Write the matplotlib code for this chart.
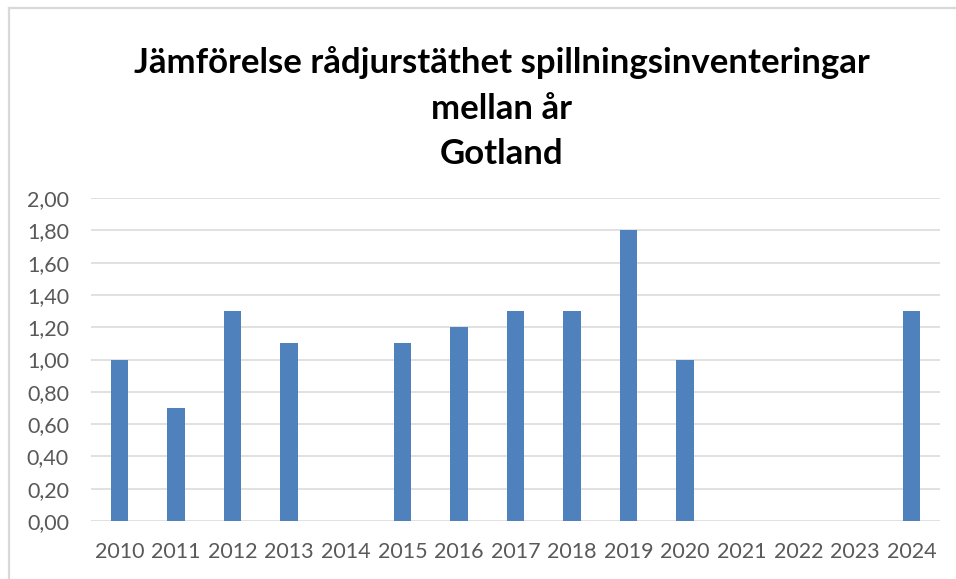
import matplotlib
matplotlib.use("Agg")
import matplotlib.pyplot as plt
from matplotlib.lines import Line2D
import numpy as np

# chart data
years = ["2010", "2011", "2012", "2013", "2014", "2015", "2016", "2017",
         "2018", "2019", "2020", "2021", "2022", "2023", "2024"]
density = [1.00, 0.70, 1.30, 1.10, np.nan, 1.10, 1.20, 1.30,
           1.30, 1.80, 1.00, np.nan, np.nan, np.nan, 1.30]
y_ticks = [0.0, 0.2, 0.4, 0.6, 0.8, 1.0, 1.2, 1.4, 1.6, 1.8, 2.0]

title = "Jämförelse rådjurstäthet spillningsinventeringar\nmellan år\nGotland"

plt.rcParams['font.family'] = ['Lato', 'DejaVu Sans']

fig = plt.figure(figsize=(9.56, 5.79), dpi=100)
ax = fig.add_axes([0.0954, 0.1002, 0.8876, 0.5578])

x = np.arange(len(years))
ax.bar(x, density, width=0.31, color="#4F81BD", zorder=3)

ax.set_xlim(-0.5, len(years) - 0.5)
ax.set_ylim(0, 2.0)
ax.set_xticks(x)
ax.set_xticklabels(years)
ax.set_yticks(y_ticks)
ax.set_yticklabels([f"{v:.2f}".replace(".", ",") for v in y_ticks])

ax.grid(axis="y", color="#D9D9D9", linewidth=1.1, zorder=0)
ax.set_axisbelow(True)
for side in ["top", "right", "left", "bottom"]:
    ax.spines[side].set_visible(False)
ax.tick_params(axis="both", length=0, labelsize=15.5, colors="#595959")
ax.tick_params(axis="x", pad=15)
ax.tick_params(axis="y", pad=16)

fig.text(0.525, 0.92, title, ha="center", va="top", fontsize=25,
         fontweight="bold", color="black", linespacing=1.52)

# light frame round the chart (top and left edges visible)
fig.add_artist(Line2D([9 / 956, 1.0], [1 - 8 / 579, 1 - 8 / 579],
                      transform=fig.transFigure, color="#D9D9D9", linewidth=1.6))
fig.add_artist(Line2D([9 / 956, 9 / 956], [0, 1 - 8 / 579],
                      transform=fig.transFigure, color="#D9D9D9", linewidth=1.6))

fig.savefig("out.png", dpi=100)
